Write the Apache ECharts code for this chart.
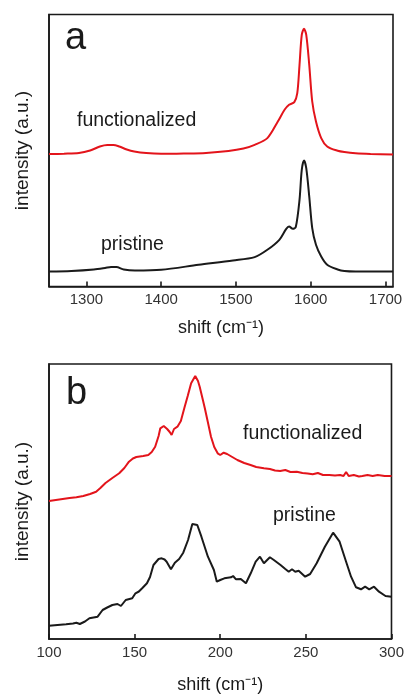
<!DOCTYPE html>
<html>
<head>
<meta charset="utf-8">
<script src="https://cdn.jsdelivr.net/npm/echarts@6/dist/echarts.min.js"></script>
<style>
  html, body { margin: 0; padding: 0; background: #fff; }
  #chart { width: 407px; height: 695px; }
</style>
</head>
<body>
<div id="chart"></div>
<script>
// Raman spectra of nanotubes: G/D band region (a) and RBM region (b)

// Panel a: Raman shift (cm-1) and intensity (a.u.)
const shiftA_functionalized = [1250, 1270, 1290, 1305, 1318, 1328, 1336, 1344, 1354, 1364, 1380, 1400, 1430, 1460, 1490, 1510, 1525, 1542, 1556, 1565, 1571, 1578, 1582, 1585, 1588, 1591, 1594, 1598, 1602, 1607, 1614, 1622, 1636, 1645, 1660, 1680, 1710];
const intensityA_functionalized = [132.4, 132.8, 133.5, 136, 140, 141.5, 141.5, 140, 137, 135, 133.4, 132.7, 133, 133.6, 135.5, 138, 141.7, 148.4, 165, 176.7, 181.7, 184.4, 193.4, 221.7, 251.7, 257.7, 251.7, 221.7, 185, 165, 148.4, 140, 135.7, 134.4, 133.2, 132.5, 132];

const shiftA_pristine = [1250, 1280, 1310, 1325, 1333, 1340, 1350, 1365, 1400, 1450, 1496, 1525, 1542, 1558, 1567, 1571, 1576, 1580, 1585, 1588, 1591, 1594, 1598, 1602, 1607, 1614, 1622, 1636, 1645, 1660, 1680, 1710];
const intensityA_pristine = [15, 15.5, 17, 18.5, 19.5, 19.5, 17, 16, 16.7, 21.7, 26, 29.4, 36.7, 46.7, 57.4, 60, 57.7, 59.4, 86.7, 116.7, 126, 118.4, 90, 58.4, 41.7, 30, 21.7, 17, 15.5, 15, 15, 15];

// Panel b: Raman shift (cm-1) and intensity (a.u.)
const shiftB_functionalized = [100, 104, 108, 112, 116, 120, 124, 127.5, 130, 133, 137, 141, 144, 146.7, 149, 151, 155, 158, 160, 162, 164, 165, 167, 169, 170.5, 171.6, 173, 175, 177, 179, 181, 183, 185.4, 187, 188, 190, 191, 193, 194.6, 196.5, 198.5, 200, 202, 204, 207, 210, 214, 217.7, 221, 225.5, 229, 232, 235, 238, 241, 244.7, 248, 251, 254, 257, 260, 263.7, 267, 270, 272, 273.5, 275, 278, 281, 283, 286, 289, 292, 296, 300];
const intensityB_functionalized = [138, 139, 140, 141, 141.7, 143, 145, 147.3, 151, 156, 161, 165.7, 171, 177.3, 180.5, 182, 183, 184, 187, 192.3, 203, 210.7, 213, 210, 207, 204, 210, 212.3, 218, 230.7, 243, 255.7, 263, 258, 252.3, 238, 230.7, 215, 202.3, 192, 185.7, 184, 186.3, 185, 182, 179, 176, 174, 172, 170.7, 170, 168.5, 168, 169, 167, 167.3, 166, 165.5, 164.7, 166, 164, 164, 163.5, 164, 163, 167, 163, 164, 162.5, 163, 164, 163, 164, 163, 163];

const shiftB_pristine = [100, 105, 110, 114, 116, 118, 121, 123.6, 126, 128.4, 131.3, 134, 137, 140, 142, 144.8, 148.6, 150.5, 152.5, 154.4, 157.2, 159, 161, 164, 165.8, 167.5, 168.7, 171.2, 173.5, 176, 178.4, 181.2, 183.7, 186.6, 189, 192.8, 196.3, 198, 200, 202.4, 206.3, 207.5, 209.2, 212, 215, 217.8, 220.7, 223.2, 225.5, 227.4, 229, 231.3, 235.2, 238, 240, 241.9, 243.8, 245.8, 249.6, 252.5, 256.3, 261.1, 265.9, 269.7, 273.5, 276.4, 279.3, 282.2, 284.6, 287, 289.8, 292.7, 296.5, 300];
const intensityB_pristine = [13.3, 14, 14.7, 15.5, 16.3, 15, 17.5, 20.7, 21.5, 22.3, 29, 31.5, 34, 35, 33, 39, 40.7, 45.7, 47.5, 50.7, 55.7, 62, 74, 80, 80.7, 79.5, 77.3, 69.7, 76.3, 80, 86.3, 99, 115, 114, 102.3, 82.3, 69, 57.3, 59, 60.7, 61.7, 63, 59.7, 60, 55.7, 65.7, 77.3, 82.3, 75.7, 79, 81.7, 79, 74, 70, 67.3, 69.7, 67.3, 68.3, 62.3, 65, 75.7, 92.3, 106.3, 97.3, 77.3, 62.3, 51.7, 49.7, 52.3, 49.7, 52.3, 47.3, 43, 42.3];

// Tick positions
const ticksA = [1300, 1400, 1500, 1600, 1700];
const ticksB = [100, 150, 200, 250, 300];

const pairs = (xs, ys) => xs.map((x, i) => [x, ys[i]]);

const FONT = '"Liberation Sans", Arial, sans-serif';
const INK = '#1a1a1a';
const RED = '#e3141b';

function xAxisFor(gridIndex, min, max, ticks, gap) {
  return {
    type: 'value', gridIndex, min, max,
    name: 'shift (cm\u207B\u00B9)',
    nameLocation: 'middle', nameGap: gap,
    nameTextStyle: { fontFamily: FONT, fontSize: 18, color: INK },
    axisLine: { show: true, onZero: false, lineStyle: { color: INK, width: 1.6 } },
    axisTick: { show: true, inside: true, length: 5, lineStyle: { color: INK, width: 1.6 }, customValues: ticks },
    axisLabel: {
      show: true, margin: 6, fontFamily: FONT, fontSize: 15, color: '#333',
      customValues: ticks, formatter: v => String(v)
    },
    splitLine: { show: false }
  };
}

function yAxisFor(gridIndex, max) {
  return {
    type: 'value', gridIndex, min: 0, max,
    name: 'intensity (a.u.)',
    nameLocation: 'middle', nameGap: 17, nameRotate: 90,
    nameTextStyle: { fontFamily: FONT, fontSize: 19, color: INK },
    axisLine: { show: true, lineStyle: { color: INK, width: 1.6 } },
    axisTick: { show: false },
    axisLabel: { show: false },
    splitLine: { show: false }
  };
}

function line(xi, data, color, smooth) {
  return {
    type: 'line', xAxisIndex: xi, yAxisIndex: xi,
    data, smooth, symbol: 'none',
    lineStyle: { color, width: 2 },
    silent: true
  };
}

function label(text, x, y, size) {
  return {
    type: 'text', left: x, top: y,
    style: { text, fontFamily: FONT, fontSize: size, fill: INK }
  };
}

const chart = echarts.init(document.getElementById('chart'), null, { renderer: 'canvas' });
chart.setOption({
  backgroundColor: '#fff',
  animation: false,
  grid: [
    { left: 49, top: 14.5, right: 14, height: 272, show: true, borderColor: INK, borderWidth: 1.6 },
    { left: 49, top: 364, right: 11, height: 275, show: true, borderColor: INK, borderWidth: 1.6 }
  ],
  xAxis: [xAxisFor(0, 1250, 1710, ticksA, 33), xAxisFor(1, 100, 300, ticksB, 37)],
  yAxis: [yAxisFor(0, 272), yAxisFor(1, 275)],
  series: [
    line(0, pairs(shiftA_functionalized, intensityA_functionalized), RED, 0.3),
    line(0, pairs(shiftA_pristine, intensityA_pristine), INK, 0.3),
    line(1, pairs(shiftB_functionalized, intensityB_functionalized), RED, false),
    line(1, pairs(shiftB_pristine, intensityB_pristine), INK, false)
  ],
  graphic: [
    label('a', 65, 20, 38),
    label('b', 66, 375, 38),
    label('functionalized', 77, 111, 19.5),
    label('pristine', 101, 235, 19.5),
    label('functionalized', 243, 424, 19.5),
    label('pristine', 273, 506, 19.5)
  ]
});
</script>
</body>
</html>
